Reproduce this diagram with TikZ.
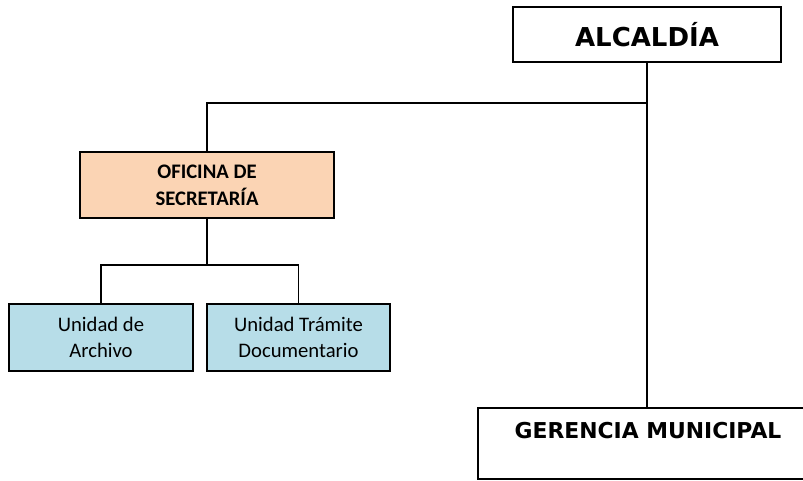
\documentclass[tikz,border=0pt]{standalone}
\usepackage{fontspec}
\setmainfont{Carlito}
\newfontfamily\verdfont{DejaVu Sans}
\usetikzlibrary{positioning}
\definecolor{peach}{HTML}{FBD4B4}
\definecolor{paleblue}{HTML}{B7DDE8}
\tikzstyle{box} = [draw,line width=1.5pt,rectangle,inner sep=0,align=center]
\tikzstyle{topbox} = [box,fill=white,font=\verdfont\bfseries\fontsize{19.5}{23}\selectfont]
\tikzstyle{office} = [box,fill=peach,font=\bfseries\fontsize{15.5}{20}\selectfont]
\tikzstyle{unit} = [box,fill=paleblue,font=\fontsize{15.5}{19}\selectfont]
\tikzstyle{link} = [-,line width=1pt]
\def \pu {0.75pt}

\begin{document}
\begin{tikzpicture}[x=\pu,y=-\pu]
      \useasboundingbox (0,0) rectangle (803,480);
      \clip (0,0) rectangle (803,480);
      \node[topbox,minimum width=268*\pu,minimum height=55*\pu] (alc) at (647,34.5) {ALCALD\'IA};
      \node[office,minimum width=254*\pu,minimum height=66*\pu] (ofi) at (207,185) {OFICINA DE\\SECRETAR\'IA};
      \node[unit,minimum width=184*\pu,minimum height=67*\pu] (arch) at (101,337.5) {Unidad de\\Archivo};
      \node[unit,minimum width=183*\pu,minimum height=67*\pu] (tram) at (298.5,337.5) {Unidad Tr\'amite\\Documentario};
      \node[topbox,font=\verdfont\bfseries\fontsize{16.4}{19}\selectfont,minimum width=340*\pu,minimum height=71*\pu] (ger) at (648,443.5) {GERENCIA MUNICIPAL\\\mbox{}};
      \coordinate (j1) at (207,103);
      \coordinate (j2) at (207,265);
      \draw[link] (alc.south) -- (alc.south |- ger.north);
      \draw[link] (alc.south |- j1) -- (j1) -- (ofi.north);
      \draw[link] (ofi.south) -- (j2);
      \draw[link] (arch.north) |- (j2) -| (tram.north);
    \end{tikzpicture}
\end{document}
